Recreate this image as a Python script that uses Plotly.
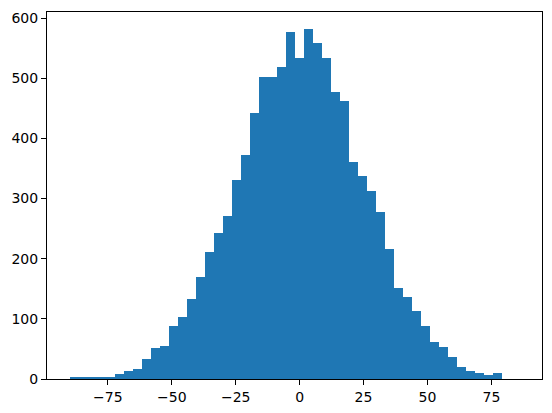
import plotly.graph_objects as go

# histogram: 50 bins spanning the data range
data_min = -90.0
data_max = 86.0
n_bins = 50
counts = [4, 4, 4, 2, 4, 9, 14, 17, 33, 52,
          55, 88, 103, 133, 169, 211, 243, 271, 330, 372,
          442, 502, 502, 518, 576, 533, 581, 558, 533, 477,
          462, 360, 338, 312, 277, 216, 152, 137, 113, 88,
          62, 53, 36, 20, 14, 10, 7, 10, 0, 0]
x_ticks = [-75, -50, -25, 0, 25, 50, 75]
y_ticks = [0, 100, 200, 300, 400, 500, 600]

bw = (data_max - data_min) / n_bins
centers = [data_min + bw * (i + 0.5) for i in range(n_bins)]
span = data_max - data_min
xr = [data_min - 0.05 * span, data_max + 0.05 * span]
yr = [0, max(counts) * 1.05]

def lab(v):
    return ("\u2212" + str(-v)) if v < 0 else str(v)

fig = go.Figure(go.Bar(x=centers, y=counts, width=bw,
                       marker=dict(color="#1f77b4", line=dict(width=0))))

axis_common = dict(showline=True, mirror=True, linecolor="black", linewidth=1.1,
                   ticks="outside", ticklen=5, tickwidth=1.1, tickcolor="black",
                   showgrid=False, zeroline=False, ticklabeloverflow="allow",
                   tickfont=dict(family="DejaVu Sans", size=14, color="black"))

# page body has an 8px default margin, so the figure is offset by 8px
fig.update_layout(
    width=544, height=405,
    margin=dict(l=39, r=10, t=2, b=34),
    plot_bgcolor="white", paper_bgcolor="white",
    bargap=0, showlegend=False,
    xaxis=dict(range=xr, tickvals=x_ticks, ticktext=[lab(v) for v in x_ticks], **axis_common),
    yaxis=dict(range=yr, tickvals=y_ticks, ticktext=[lab(v) for v in y_ticks], **axis_common),
)

fig.write_html("out.html")
